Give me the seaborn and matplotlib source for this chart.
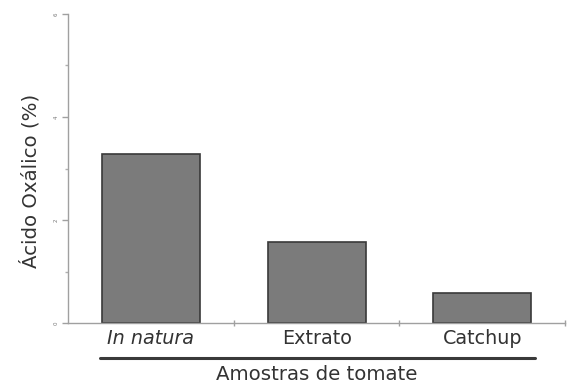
import matplotlib
matplotlib.use("Agg")
import matplotlib.pyplot as plt
import seaborn as sns
import pandas as pd
from matplotlib.ticker import MultipleLocator

categories = ["In natura", "Extrato", "Catchup"]
values = [3.28, 1.57, 0.58]
y_ticks = [0, 2, 4, 6]

sns.set_theme(style="white")
plt.rcParams["font.family"] = ["DejaVu Sans"]

df = pd.DataFrame({"amostra": categories, "acido": values})

fig = plt.figure(figsize=(5.68, 3.87), dpi=100)
ax = fig.add_axes([0.12, 0.165, 0.875, 0.799])

sns.barplot(data=df, x="amostra", y="acido", ax=ax, color="#7b7b7b",
            saturation=1, width=0.59, edgecolor="#3a3a3a", linewidth=1.2)

ax.set_xlim(-0.5, 2.5)
ax.set_ylim(0, 6)
ax.set_yticks(y_ticks)
ax.yaxis.set_minor_locator(MultipleLocator(1))
ax.set_xticks([0.5, 1.5, 2.5], minor=True)

for side in ["top", "right"]:
    ax.spines[side].set_visible(False)
for side in ["left", "bottom"]:
    ax.spines[side].set_color("#a0a0a0")
    ax.spines[side].set_linewidth(1.0)

ax.tick_params(axis="y", which="major", direction="out", length=4, width=1,
               color="#a0a0a0", labelsize=4, labelcolor="#777777",
               labelrotation=90, left=True, pad=3)
ax.tick_params(axis="y", which="minor", direction="out", length=2, width=1,
               color="#b0b0b0", left=True)
ax.tick_params(axis="x", which="major", length=0, labelsize=13.8,
               labelcolor="#333333", pad=4)
ax.tick_params(axis="x", which="minor", direction="inout", length=4, width=1,
               color="#a0a0a0", bottom=True)
for lbl in ax.get_yticklabels():
    lbl.set_va("center")
for lbl in ax.get_xticklabels():
    if lbl.get_text() == "In natura":
        lbl.set_style("italic")

ax.set_ylabel("Ácido Oxálico (%)", fontsize=14.2, color="#333333")
ax.yaxis.set_label_coords(-0.056, 0.46)
ax.set_xlabel("")

# rule separating the sample names from the axis title
fig.add_artist(plt.Line2D([100 / 568, 535 / 568], [1 - 358 / 387, 1 - 358 / 387],
                          color="#3a3a3a", linewidth=2.2))
fig.text(317 / 568, 1 - 375 / 387, "Amostras de tomate", ha="center", va="center",
         fontsize=14.2, color="#333333")

fig.savefig("out.png", dpi=100)
